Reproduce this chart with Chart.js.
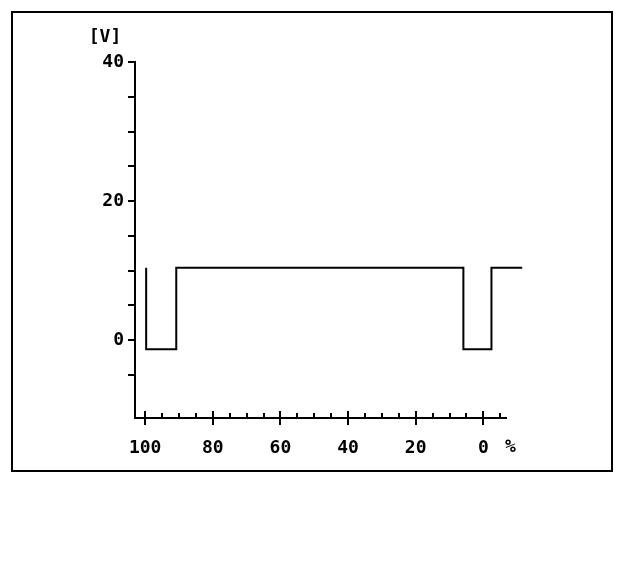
<!DOCTYPE html>
<html>
<head>
<meta charset="utf-8">
<script src="https://cdn.jsdelivr.net/npm/chart.js@4/dist/chart.umd.min.js"></script>
<style>
   html, body { margin: 0; padding: 0; background: #fff; }
   #wrap { position: relative; width: 640px; height: 564px; }
   #frame { position: absolute; left: 11px; top: 11px; width: 598px; height: 457px; border: 2px solid #000; pointer-events: none; }
   canvas { position: absolute; left: 0; top: 0; }
</style>
</head>
<body>
<div id="wrap">
   <canvas id="myChart" width="640" height="564"></canvas>
   <div id="frame"></div>
</div>
<script>
// signal trace (x in %, y in V)
const traceX = [99.7, 99.7, 90.8, 90.8, 5.9, 5.9, -2.4, -2.4, -11.5];
const traceY = [10.4, -1.3, -1.3, 10.4, 10.4, -1.3, -1.3, 10.4, 10.4];

// axis ticks and labels
const xTicks = [100, 95, 90, 85, 80, 75, 70, 65, 60, 55, 50, 45, 40, 35, 30, 25, 20, 15, 10, 5, 0, -5];
const xLabels = {100: '100', 80: '80', 60: '60', 40: '40', 20: '20', 0: '0'};
const yTicks = [-5, 0, 5, 10, 15, 20, 25, 30, 35, 40];
const yLabels = {0: '0', 20: '20', 40: '40'};
const unitX = '%', unitY = '[V]';

const font = {family: 'DejaVu Sans Mono', size: 18, weight: 'bold'};
const fontStr = 'bold 18px "DejaVu Sans Mono"';

const extras = {
   id: 'extras',
   afterDraw(chart) {
      const {ctx, scales: {x, y}} = chart;
      ctx.save();
      ctx.strokeStyle = '#000';
      ctx.lineWidth = 2;
      // x ticks cross the axis line
      xTicks.forEach(v => {
         const px = Math.round(x.getPixelForValue(v));
         const major = xLabels[v] !== undefined;
         ctx.beginPath();
         ctx.moveTo(px, y.bottom - (major ? 7 : 5));
         ctx.lineTo(px, y.bottom + (major ? 7 : 1));
         ctx.stroke();
      });
      ctx.fillStyle = '#000';
      ctx.font = fontStr;
      ctx.textAlign = 'center';
      ctx.textBaseline = 'middle';
      ctx.fillText(unitX, x.getPixelForValue(0) + 27, y.bottom + 29);
      ctx.fillText(unitY, chart.chartArea.left - 30, chart.chartArea.top - 25);
      ctx.restore();
   }
};

const ctx = document.getElementById('myChart').getContext('2d');
new Chart(ctx, {
   type: 'line',
   data: {
      datasets: [{
         data: traceX.map((v, i) => ({x: v, y: traceY[i]})),
         borderColor: '#000',
         borderWidth: 2,
         pointRadius: 0,
         tension: 0,
         fill: false,
         clip: false,
      }]
   },
   options: {
      responsive: false,
      animation: false,
      layout: {padding: {left: 0, top: 62, right: 134, bottom: 106}},
      plugins: {legend: {display: false}, tooltip: {enabled: false}},
      scales: {
         x: {
            type: 'linear',
            reverse: true,
            min: -6.7,
            max: 103,
            afterBuildTicks: s => { s.ticks = xTicks.map(v => ({value: v})); },
            afterFit: s => { s.height = 40; },
            grid: {display: false, drawTicks: false},
            border: {display: true, color: '#000', width: 2},
            ticks: {
               autoSkip: false, maxRotation: 0, color: '#000', font: font, padding: 20,
               callback: v => xLabels[v] ?? '',
            },
         },
         y: {
            type: 'linear',
            min: -11.2,
            max: 40,
            afterBuildTicks: s => { s.ticks = yTicks.map(v => ({value: v})); },
            afterFit: s => { s.width = 135; },
            grid: {display: true, drawOnChartArea: false, tickLength: 7, color: '#000', lineWidth: 2},
            border: {display: true, color: '#000', width: 2},
            ticks: {
               autoSkip: false, color: '#000', font: font, padding: 4,
               callback: v => yLabels[v] ?? '',
            },
         }
      }
   },
   plugins: [extras]
});
</script>
</body>
</html>
